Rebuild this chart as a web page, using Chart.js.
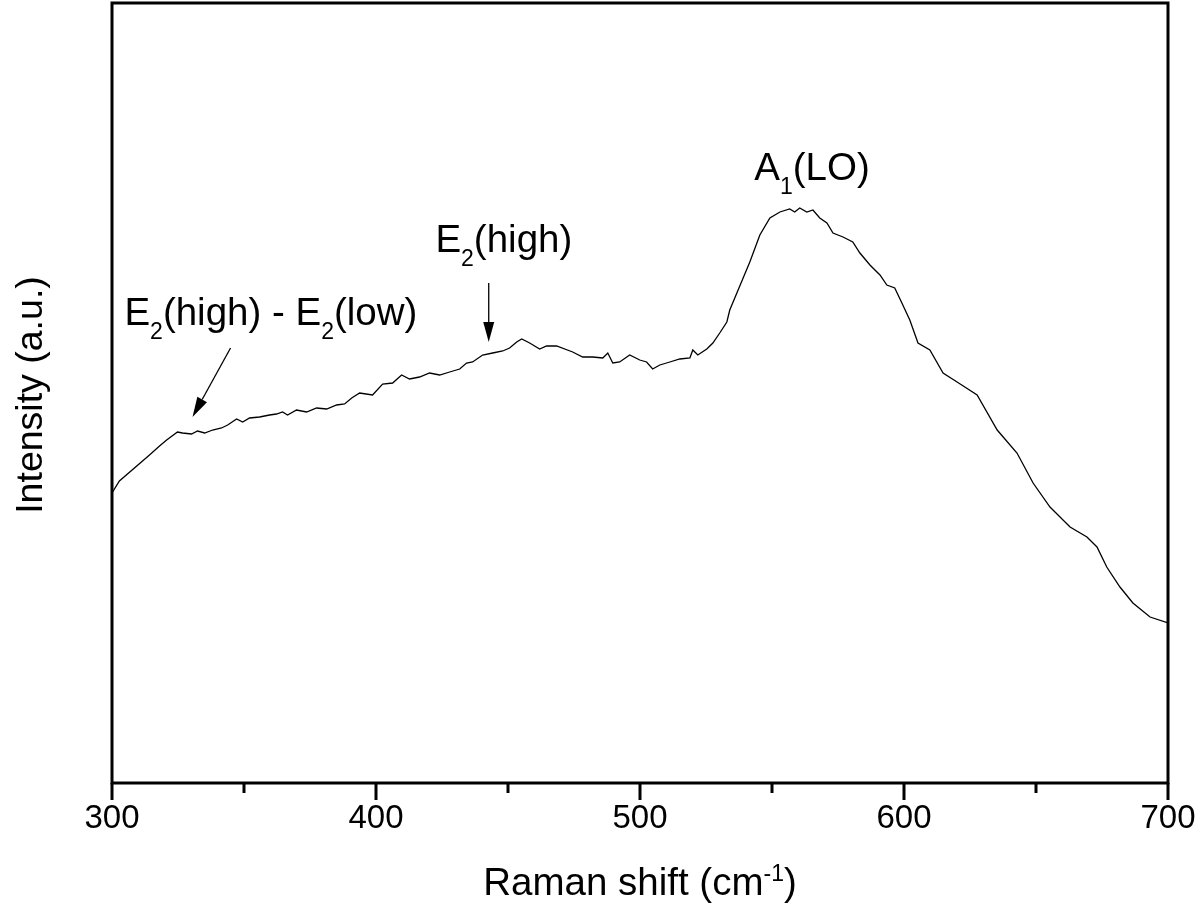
<!DOCTYPE html>
<html>
<head>
<meta charset="utf-8">
<script src="https://cdn.jsdelivr.net/npm/chart.js@4.4.1/dist/chart.umd.min.js"></script>
<style>
  html, body { margin: 0; padding: 0; background: #fff; }
  #wrap { width: 1200px; height: 917px; }
</style>
</head>
<body>
<div id="wrap"><canvas id="c" width="1200" height="917"></canvas></div>
<script>
// Raman shift (cm^-1)
const ramanShift = [
  300.0, 302.8, 314.2, 318.0, 320.7, 324.8, 326.7, 330.1, 332.4, 335.1,
  338.1, 341.5, 343.8, 347.2, 349.5, 352.1, 355.9, 359.7, 362.3, 364.6,
  366.5, 369.9, 373.7, 377.5, 381.3, 385.1, 388.1, 390.8, 393.8, 398.7,
  402.5, 406.3, 409.7, 412.7, 416.5, 420.3, 424.1, 427.9, 431.7, 434.3,
  436.6, 440.4, 444.2, 448.0, 450.6, 453.3, 455.2, 458.2, 462.0, 464.6,
  468.4, 474.5, 478.3, 482.1, 485.9, 487.8, 489.7, 492.3, 496.1, 499.9,
  502.5, 504.8, 507.5, 511.3, 515.1, 518.9, 520.0, 521.9, 525.3, 527.6,
  530.2, 532.9, 534.0, 537.8, 541.6, 545.4, 549.2, 553.0, 556.7, 558.6,
  560.5, 563.2, 565.5, 568.1, 570.8, 573.1, 576.9, 580.6, 583.3, 587.1,
  590.9, 593.5, 596.5, 599.2, 602.2, 605.3, 609.8, 614.8, 620.1, 627.7,
  635.3, 642.8, 648.9, 655.3, 662.9, 669.3, 673.1, 676.8, 681.8, 686.7,
  693.2, 700.0
];
// Intensity (a.u.)
const intensity = [
  290, 302, 328, 337, 343, 351, 350, 349, 352, 350,
  353, 355, 358, 364, 361, 365, 366, 368, 369, 371,
  368, 373, 371, 375, 374, 378, 379, 385, 390, 388,
  399, 400, 408, 404, 406, 410, 408, 411, 414, 420,
  421, 428, 430, 432, 435, 441, 444, 440, 434, 437,
  437, 431, 426, 426, 425, 430, 420, 421, 428, 423,
  421, 414, 418, 421, 424, 425, 433, 428, 434, 440,
  450, 461, 473, 497, 521, 548, 565, 571, 574, 571,
  575, 571, 573, 565, 560, 550, 546, 541, 530, 518,
  508, 498, 495, 480, 463, 440, 433, 410, 401, 388,
  353, 330, 300, 276, 256, 246, 236, 216, 196, 180,
  166, 160
];
const xTickValues = [300, 400, 500, 600, 700];
const xMinorValues = [350, 450, 550, 650];

// Peak annotations (anchored in data space)
const annotationTexts = [
  [{t: 'E'}, {t: '2', sub: true}, {t: '(high) - E'}, {t: '2', sub: true}, {t: '(low)'}],
  [{t: 'E'}, {t: '2', sub: true}, {t: '(high)'}],
  [{t: 'A'}, {t: '1', sub: true}, {t: '(LO)'}]
];
const annotationAnchorX = [304.7, 422.5, 543.3];
const annotationAnchorY = [458, 531, 603];
const arrowFromX = [344.9, 442.7];
const arrowFromY = [435, 500];
const arrowToX = [330.5, 442.7];
const arrowToY = [366, 441];

const FONT = '"Liberation Sans", Arial, sans-serif';
const BIG = 38.5, SMALL = 23, DROP = 14;

function drawRich(ctx, parts, x, y, size, subSize, subDrop) {
  let cx = x;
  for (const p of parts) {
    if (p.sub) {
      ctx.font = subSize + 'px ' + FONT;
      ctx.fillText(p.t, cx, y + subDrop);
    } else if (p.sup) {
      ctx.font = subSize + 'px ' + FONT;
      ctx.fillText(p.t, cx, y - subDrop);
    } else {
      ctx.font = size + 'px ' + FONT;
      ctx.fillText(p.t, cx, y);
    }
    cx += ctx.measureText(p.t).width;
  }
  return cx - x;
}
function measureRich(ctx, parts, size, subSize) {
  let w = 0;
  for (const p of parts) {
    ctx.font = ((p.sub || p.sup) ? subSize : size) + 'px ' + FONT;
    w += ctx.measureText(p.t).width;
  }
  return w;
}

const decor = {
  id: 'decor',
  afterDraw(chart) {
    const ctx = chart.ctx;
    const a = chart.chartArea;
    const xs = chart.scales.x, ys = chart.scales.y;
    ctx.save();
    ctx.strokeStyle = '#000';
    ctx.fillStyle = '#000';
    // frame
    ctx.lineWidth = 3;
    ctx.strokeRect(a.left, a.top, a.right - a.left, a.bottom - a.top);
    // tick marks
    ctx.beginPath();
    for (const v of xTickValues) {
      const px = xs.getPixelForValue(v);
      ctx.moveTo(px, a.bottom);
      ctx.lineTo(px, a.bottom + 17);
    }
    for (const v of xMinorValues) {
      const px = xs.getPixelForValue(v);
      ctx.moveTo(px, a.bottom);
      ctx.lineTo(px, a.bottom + 10);
    }
    ctx.stroke();
    // arrows
    ctx.lineWidth = 1.3;
    for (let i = 0; i < arrowFromX.length; i++) {
      const x1 = xs.getPixelForValue(arrowFromX[i]), y1 = ys.getPixelForValue(arrowFromY[i]);
      const x2 = xs.getPixelForValue(arrowToX[i]), y2 = ys.getPixelForValue(arrowToY[i]);
      const ang = Math.atan2(y2 - y1, x2 - x1);
      const hl = 20, hw = 5.5;
      const bx = x2 - hl * Math.cos(ang), by = y2 - hl * Math.sin(ang);
      ctx.beginPath();
      ctx.moveTo(x1, y1);
      ctx.lineTo(bx, by);
      ctx.stroke();
      ctx.beginPath();
      ctx.moveTo(x2, y2);
      ctx.lineTo(bx + hw * Math.sin(ang), by - hw * Math.cos(ang));
      ctx.lineTo(bx - hw * Math.sin(ang), by + hw * Math.cos(ang));
      ctx.closePath();
      ctx.fill();
    }
    // annotation labels
    ctx.textAlign = 'left';
    ctx.textBaseline = 'alphabetic';
    for (let i = 0; i < annotationTexts.length; i++) {
      const px = xs.getPixelForValue(annotationAnchorX[i]);
      const py = ys.getPixelForValue(annotationAnchorY[i]);
      drawRich(ctx, annotationTexts[i], px, py, BIG, SMALL, DROP);
    }
    // x axis title
    const xTitle = [{t: 'Raman shift (cm'}, {t: '-1', sup: true}, {t: ')'}];
    const w = measureRich(ctx, xTitle, BIG, SMALL);
    drawRich(ctx, xTitle, (a.left + a.right) / 2 - w / 2, 895, BIG, SMALL, 14);
    // y axis title
    ctx.translate(42, (a.top + a.bottom) / 2 + 2);
    ctx.rotate(-Math.PI / 2);
    ctx.textAlign = 'center';
    ctx.font = '37.5px ' + FONT;
    ctx.fillText('Intensity (a.u.)', 0, 0);
    ctx.restore();
  }
};

new Chart(document.getElementById('c'), {
  type: 'line',
  data: {
    datasets: [{
      data: ramanShift.map((x, i) => ({x: x, y: intensity[i]})),
      borderColor: '#000',
      borderWidth: 1.3,
      pointRadius: 0,
      tension: 0,
      fill: false
    }]
  },
  options: {
    responsive: false,
    animation: false,
    layout: { padding: { top: 3, right: 32, left: 0, bottom: 0 } },
    plugins: { legend: { display: false }, tooltip: { enabled: false } },
    scales: {
      x: {
        type: 'linear',
        min: 300, max: 700,
        afterFit(s) { s.height = 134; s.paddingLeft = 0; s.paddingRight = 0; },
        grid: { display: false },
        border: { display: false },
        ticks: {
          stepSize: 100,
          autoSkip: false,
          maxRotation: 0,
          padding: 8,
          color: '#000',
          font: { size: 33, family: FONT },
          callback: (v) => v
        }
      },
      y: {
        min: 0, max: 780,
        afterFit(s) { s.width = 112; s.paddingTop = 0; s.paddingBottom = 0; },
        grid: { display: false },
        border: { display: false },
        ticks: { display: false }
      }
    }
  },
  plugins: [decor]
});
</script>
</body>
</html>
